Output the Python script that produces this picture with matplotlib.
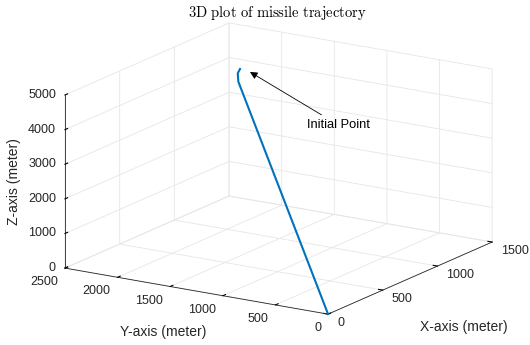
import numpy as np
import matplotlib
matplotlib.use('Agg')
from matplotlib import pyplot as plt
from mpl_toolkits.mplot3d import proj3d

plt.rcParams['font.family'] = ['Liberation Sans', 'DejaVu Sans']
plt.rcParams['mathtext.fontset'] = 'cm'
plt.rcParams['grid.color'] = '#e6e6e6'
plt.rcParams['grid.linewidth'] = 0.6

# missile path, initial point first, ends at the target (origin)
x_pos = [843, 799, 794, 0]
y_pos = [1713, 1689, 1678, 0]
z_pos = [5000, 4950, 4720, 0]

x_ticks = [0, 500, 1000, 1500]
y_ticks = [0, 500, 1000, 1500, 2000, 2500]
z_ticks = [0, 1000, 2000, 3000, 4000, 5000]

W, H = 530, 345
fig = plt.figure(figsize=(W / 100, H / 100), dpi=100)
ax = fig.add_axes([0.0168, -0.002, 1.0, 1.0], projection='3d', proj_type='ortho')
ax.view_init(elev=16.1, azim=-147.74)
ax.set_box_aspect((1, 1.012, 0.586), zoom=1.331)

ax.plot(x_pos, y_pos, z_pos, color='#0072BD', lw=1.5)

ax.set_xlim(x_ticks[0], x_ticks[-1])
ax.set_ylim(y_ticks[0], y_ticks[-1])
ax.set_zlim(z_ticks[0], z_ticks[-1])
ax.set_xticks(x_ticks, [''] * len(x_ticks))
ax.set_yticks(y_ticks, [''] * len(y_ticks))
ax.set_zticks(z_ticks, [''] * len(z_ticks))

for axis in (ax.xaxis, ax.yaxis, ax.zaxis):
    axis.set_pane_color((1, 1, 1, 1))
    axis.line.set_color('#262626')
    axis.line.set_linewidth(0.6)
    axis.set_tick_params(labelbottom=False)
    axis._axinfo['tick']['inward_factor'] = 0.0
    axis._axinfo['tick']['outward_factor'] = 0.2
    axis._axinfo['tick']['color'] = '#262626'

M = ax.get_proj()


def tick_text(x, y, z, s, dx, dy, ha):
    # project the tick location, then place the label a few pixels off it
    px, py, _ = proj3d.proj_transform(x, y, z, M)
    ax.annotate(s, xy=(px, py), xycoords='data', xytext=(dx, -dy), textcoords='offset pixels',
                ha=ha, va='center', fontsize=9, color='#262626', annotation_clip=False)


# tick labels, MATLAB style placement
for v in x_ticks:
    tick_text(v, 0, 0, str(v), 9, 9, 'left')
for v in y_ticks:
    tick_text(0, v, 0, str(v), -7, 14, 'right')
for v in z_ticks:
    tick_text(0, y_ticks[-1], v, str(v), -9, 0, 'right')

fig.text(464 / W, 1 - 327 / H, 'X-axis (meter)', fontsize=10, ha='center', va='center', color='#262626')
fig.text(163 / W, 1 - 332 / H, 'Y-axis (meter)', fontsize=10, ha='center', va='center', color='#262626')
fig.text(14 / W, 1 - 182 / H, 'Z-axis (meter)', fontsize=10, ha='center', va='center',
         rotation=90, color='#262626')

fig.text(277 / W, 1 - 13 / H, r'$\mathrm{3D\ plot\ of\ missile\ trajectory}$',
         ha='center', va='center', fontsize=10.5)

fig.add_artist(plt.Annotation('Initial Point', xy=(250, H - 72), xytext=(307, H - 125),
                              xycoords='figure pixels', textcoords='figure pixels',
                              fontsize=9.3, va='center', ha='left',
                              arrowprops=dict(arrowstyle='-|>', color='k', lw=0.6,
                                              mutation_scale=11, shrinkA=2, shrinkB=0)))

fig.savefig('out.png', dpi=100)
